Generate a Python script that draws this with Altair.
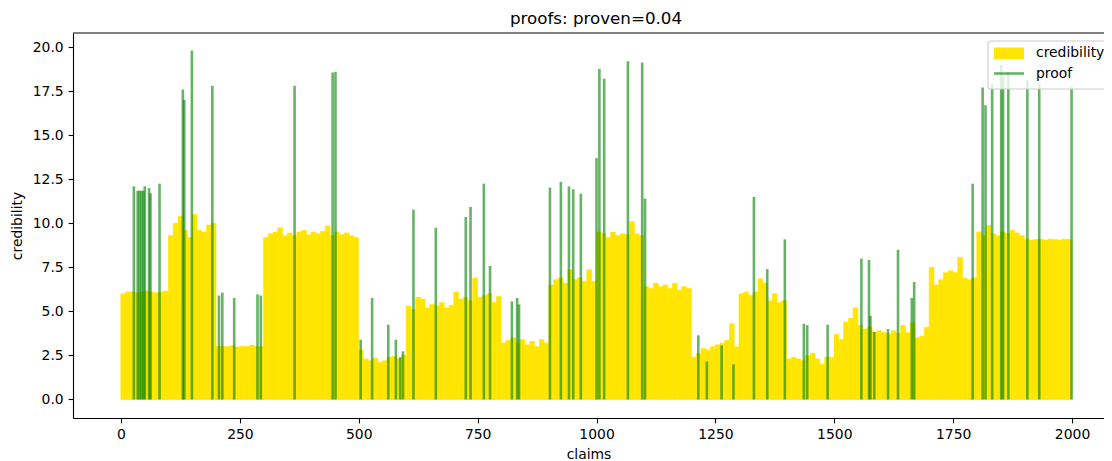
import altair as alt
import pandas as pd

# ---- data ----
# credibility, one value per group of 10 claims (claims 0..1999)
claim_start = list(range(0, 2000, 10))
credibility = [
    6.0, 6.1, 6.1, 6.05, 6.1, 6.15, 6.1, 6.05, 6.1, 6.15,
    9.3, 10.0, 10.4, 9.6, 9.2, 10.5, 9.6, 9.5, 9.9, 10.0,
    3.0, 3.02, 3.0, 3.05, 2.98, 3.02, 3.0, 3.08, 3.02, 3.0,
    9.2, 9.4, 9.5, 9.75, 9.3, 9.45, 9.3, 9.5, 9.6, 9.35,
    9.5, 9.4, 9.55, 9.85, 9.3, 9.5, 9.35, 9.45, 9.3, 9.2,
    2.8, 2.3, 2.2, 2.35, 2.1, 2.2, 2.4, 2.45, 2.3, 2.5,
    5.3, 5.1, 5.8, 5.7, 5.2, 5.4, 5.3, 5.5, 5.2, 5.35,
    6.1, 5.7, 5.8, 5.6, 6.9, 5.8, 5.9, 6.0, 5.5, 5.85,
    3.2, 3.35, 3.5, 3.2, 3.4, 3.1, 3.3, 3.0, 3.4, 3.2,
    6.5, 6.8, 6.9, 6.6, 7.37, 6.8, 6.9, 6.7, 7.37, 6.7,
    9.5, 9.4, 9.2, 9.5, 9.3, 9.4, 9.35, 10.1, 9.4, 9.3,
    6.4, 6.3, 6.6, 6.4, 6.5, 6.3, 6.6, 6.2, 6.4, 6.3,
    2.4, 2.6, 2.9, 2.8, 3.0, 3.1, 3.2, 3.35, 4.3, 3.0,
    6.0, 6.1, 5.9, 6.1, 6.85, 6.6, 5.6, 6.0, 5.5, 5.6,
    2.3, 2.4, 2.3, 2.2, 2.5, 2.63, 2.3, 2.0, 2.4, 2.4,
    3.7, 3.4, 4.4, 4.6, 5.2, 4.2, 4.0, 4.1, 3.8, 3.9,
    3.8, 3.7, 3.9, 3.75, 4.2, 3.8, 4.35, 3.5, 3.6, 4.1,
    7.5, 6.5, 6.8, 7.2, 7.3, 7.2, 8.06, 6.9, 6.8, 6.9,
    9.5, 9.3, 9.87, 9.4, 9.3, 9.5, 9.4, 9.6, 9.45, 9.3,
    9.1, 9.05, 9.08, 9.1, 9.05, 9.1, 9.08, 9.05, 9.1, 9.08,
]

proof_claim = [
    27, 35, 39, 43, 47, 50, 59, 62, 81, 130, 133, 149, 192, 206, 213, 238,
    287, 294, 365, 445, 451, 504, 528, 562, 578, 587, 593, 615, 662, 725,
    735, 763, 776, 822, 833, 837, 902, 925, 942, 951, 967, 1000, 1006, 1016,
    1066, 1096, 1102, 1214, 1232, 1263, 1288, 1331, 1359, 1396, 1436, 1443,
    1486, 1557, 1573, 1576, 1584, 1613, 1634, 1663, 1668, 1791, 1812, 1818,
    1832, 1851, 1855, 1866, 1906, 1931, 1999,
]
proof_value = [
    12.1, 11.85, 11.85, 11.85, 11.85, 12.1, 12.0, 11.7, 12.25, 17.6, 17.0, 19.8, 17.8, 5.9, 6.06, 5.76,
    5.97, 5.9, 17.8, 18.56, 18.6, 3.39, 5.76, 4.24, 3.39, 2.4, 2.73, 10.78, 9.75, 10.36,
    10.93, 12.25, 7.58, 5.57, 5.76, 5.4, 12.03, 12.35, 12.1, 11.93, 11.68, 13.7, 18.75, 18.2,
    19.2, 19.13, 11.4, 3.64, 2.16, 3.07, 1.99, 11.5, 7.4, 9.09, 4.3, 4.22,
    4.24, 8.0, 7.92, 4.75, 3.83, 4.0, 8.5, 5.76, 6.67, 12.25, 17.7, 16.7,
    17.9, 19.0, 18.3, 18.6, 18.1, 17.9, 17.75,
]

x_ticks = [0, 250, 500, 750, 1000, 1250, 1500, 1750, 2000]
y_ticks = [0, 2.5, 5, 7.5, 10, 12.5, 15, 17.5, 20]
legend_labels = ["credibility", "proof"]
title_text = "proofs: proven=0.04"

# ---- layout ----
W, H = 1031, 385
FONT = "DejaVu Sans"
YELLOW = "#FFE500"
GREEN = "#008000"

cred_df = pd.DataFrame({
    "start": [c - 0.4 for c in claim_start],
    "end": [c + 9.6 for c in claim_start],
    "credibility": credibility,
    "base": [0.0] * len(claim_start),
})
proof_df = pd.DataFrame({
    "claim": proof_claim,
    "proof": proof_value,
    "base": [0.0] * len(proof_claim),
})

xscale = alt.Scale(domain=[-101, 2067.2], nice=False, zero=False)
yscale = alt.Scale(domain=[-1.05, 20.8], nice=False, zero=False)

xaxis = alt.Axis(values=x_ticks, format="d", title="claims", titleY=36,
                 titleBaseline="middle")
yaxis = alt.Axis(values=y_ticks, format=".1f", title="credibility",
                 titleX=-56, titleY=H / 2, titleAngle=-90,
                 titleBaseline="middle", titleAlign="center")

bars = alt.Chart(cred_df).mark_rect(
    color=YELLOW, stroke=YELLOW, strokeWidth=0.6
).encode(
    x=alt.X("start:Q", scale=xscale, axis=xaxis),
    x2="end:Q",
    y=alt.Y("base:Q", scale=yscale, axis=yaxis),
    y2="credibility:Q",
)

lines = alt.Chart(proof_df).mark_rule(
    color=GREEN, strokeOpacity=0.6, strokeWidth=2.6
).encode(
    x=alt.X("claim:Q", scale=xscale),
    y=alt.Y("base:Q", scale=yscale),
    y2="proof:Q",
)

one = pd.DataFrame({"k": [0]})
top_spine = alt.Chart(one).mark_rule(color="black", strokeWidth=1.1).encode(
    x=alt.value(0), x2=alt.value(W), y=alt.value(0)
)

title_mark = alt.Chart(pd.DataFrame({"t": [title_text]})).mark_text(
    font=FONT, fontSize=16.7, align="center", baseline="alphabetic", color="black"
).encode(x=alt.value(523), y=alt.value(-9), text="t:N")

leg_box = alt.Chart(one).mark_rect(
    fill="white", fillOpacity=0.8, stroke="#cccccc", strokeWidth=1.1, cornerRadius=3
).encode(x=alt.value(915), x2=alt.value(1060), y=alt.value(8), y2=alt.value(56))

leg_patch = alt.Chart(one).mark_rect(color=YELLOW).encode(
    x=alt.value(921), x2=alt.value(951), y=alt.value(14.5), y2=alt.value(26)
)
leg_line = alt.Chart(one).mark_rule(color=GREEN, strokeOpacity=0.6, strokeWidth=2.6).encode(
    x=alt.value(921), x2=alt.value(951), y=alt.value(40.5)
)
leg_text1 = alt.Chart(pd.DataFrame({"label": [legend_labels[0]]})).mark_text(
    font=FONT, fontSize=13.9, align="left", baseline="middle", color="black"
).encode(x=alt.value(963), y=alt.value(20), text="label:N")
leg_text2 = alt.Chart(pd.DataFrame({"label": [legend_labels[1]]})).mark_text(
    font=FONT, fontSize=13.9, align="left", baseline="middle", color="black"
).encode(x=alt.value(963), y=alt.value(41), text="label:N")

chart = alt.layer(
    bars, lines, top_spine, title_mark, leg_box, leg_patch, leg_line, leg_text1, leg_text2
).properties(
    width=W,
    height=H,
    autosize=alt.AutoSizeParams(type="none"),
    padding={"left": 65, "top": 25, "right": 0, "bottom": 43},
).configure_view(stroke=None).configure_axis(
    labelFont=FONT, labelFontSize=13.9, labelColor="black",
    titleFont=FONT, titleFontSize=13.9, titleFontWeight="normal", titleColor="black",
    tickColor="black", tickSize=4.9, tickWidth=1.1,
    domainColor="black", domainWidth=1.1, labelPadding=4.9, grid=False,
)

chart.save("out.html", embed_options={"renderer": "svg", "actions": False})
